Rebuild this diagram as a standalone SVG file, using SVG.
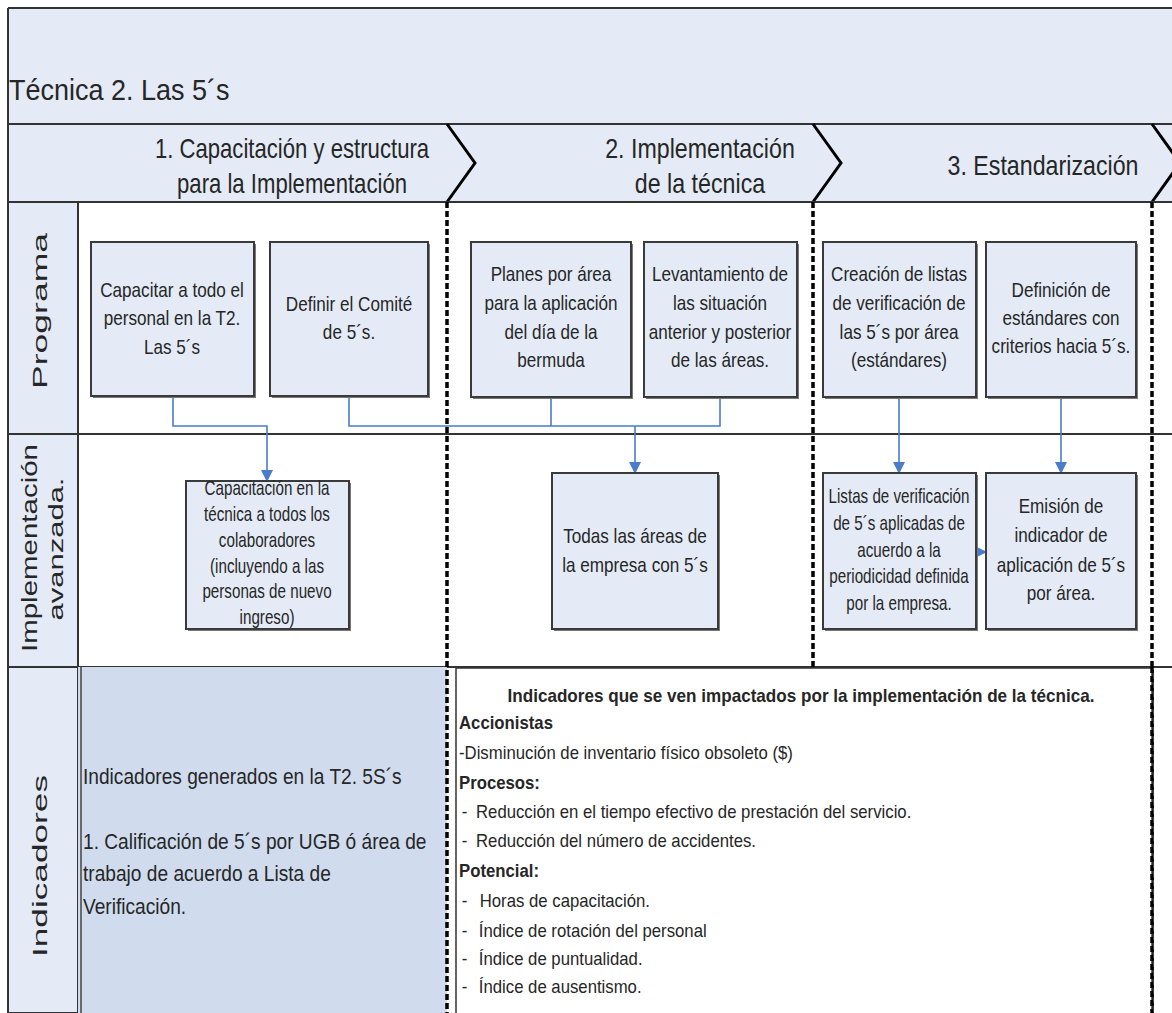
<svg xmlns="http://www.w3.org/2000/svg" width="1172" height="1013" viewBox="0 0 1172 1013">
<style>
.band{fill:#E4EBF6;stroke:none}
.lane{fill:#E4EBF6;stroke:#333;stroke-width:2}
.box{fill:#E4EBF6;stroke:#3a3a3a;stroke-width:2}
.sh{fill:#7a7a7a}
.t{font-family:"Liberation Sans",Arial,sans-serif;fill:#262626}
.bt{font-size:21px;text-anchor:middle}
.st{font-size:20px;text-anchor:middle}
.ph{font-size:27px;text-anchor:middle}
.lh{font-family:"Liberation Sans",Arial,sans-serif;fill:#262626;text-anchor:middle}
.ind{font-size:18px}
.b{font-weight:bold}
.hl{stroke:#333;stroke-width:2;fill:none}
.dash{stroke:#000;stroke-width:3.5;stroke-dasharray:6 3;fill:none}
.chev{stroke:#000;stroke-width:3;fill:none}
.con{stroke:#4A7CC9;stroke-width:1.6;fill:none}
</style>
<defs>
<marker id="ar" markerWidth="12" markerHeight="12" refX="11" refY="6" orient="auto" markerUnits="userSpaceOnUse">
<path d="M0,0 L12,6 L0,12 z" fill="#4A7CC9"/>
</marker>
</defs>
<rect width="1172" height="1013" fill="#fff"/>
<g id="title">
<rect class="band" x="8" y="8" width="1164" height="194"/>
<line class="hl" x1="8" y1="8" x2="1172" y2="8"/>
<line class="hl" x1="8" y1="8" x2="8" y2="1013"/>
<line class="hl" x1="8" y1="124" x2="1172" y2="124"/>
<g transform="translate(9 0) scale(0.9 1)"><text class="t" x="0" y="100" font-size="30">Técnica 2. Las 5´s</text></g>
</g>
<g id="phases">
<g transform="translate(292 0) scale(0.82 1)">
<text class="t ph" x="0" y="158">1. Capacitación y estructura</text>
<text class="t ph" x="0" y="193">para la Implementación</text></g>
<g transform="translate(700 0) scale(0.86 1)">
<text class="t ph" x="0" y="158">2. Implementación</text>
<text class="t ph" x="0" y="193">de la técnica</text></g>
<g transform="translate(1043 0) scale(0.86 1)">
<text class="t ph" x="0" y="175">3. Estandarización</text></g>
<path class="chev" d="M447,124 L475,163 L447,202"/>
<path class="chev" d="M813,124 L841,163 L813,202"/>
<path class="chev" d="M1152,124 L1180,163 L1152,202"/>
</g>
<g id="lanes">
<rect class="lane" x="8" y="202" width="70" height="811"/>
<line class="hl" x1="8" y1="202" x2="1172" y2="202"/>
<line class="hl" x1="8" y1="434" x2="1172" y2="434"/>
<line class="hl" x1="8" y1="667" x2="1172" y2="667"/>
<text class="lh" font-size="21" textLength="156" lengthAdjust="spacingAndGlyphs" transform="translate(47,311) rotate(-90)">Programa</text>
<text class="lh" font-size="22" textLength="208" lengthAdjust="spacingAndGlyphs" transform="translate(37,548) rotate(-90)">Implementación</text>
<text class="lh" font-size="21" textLength="143" lengthAdjust="spacingAndGlyphs" transform="translate(63,549) rotate(-90)">avanzada.</text>
<text class="lh" font-size="21" textLength="182" lengthAdjust="spacingAndGlyphs" transform="translate(47,866) rotate(-90)">Indicadores</text>
</g>
<g id="ind-left">
<rect x="78" y="667" width="369" height="346" fill="#D0DCEE"/>
<line x1="81" y1="667" x2="81" y2="1013" stroke="#444" stroke-width="1.5"/>
<g transform="translate(83 0) scale(0.87 1)">
<text class="t" font-size="22" x="0" y="784">Indicadores generados en la T2. 5S´s</text>
<text class="t" font-size="22" x="0" y="849">1. Calificación de 5´s por UGB ó área de</text>
<text class="t" font-size="22" x="0" y="881">trabajo de acuerdo a Lista de</text>
<text class="t" font-size="22" x="0" y="914">Verificación.</text></g>
</g>
<g id="separators">
<line class="dash" x1="447" y1="202" x2="447" y2="1013"/>
<line class="dash" x1="813" y1="202" x2="813" y2="667"/>
<line class="dash" x1="1152" y1="202" x2="1152" y2="1013"/>
</g>
<g id="ind-right">
<rect x="456" y="668" width="696" height="350" fill="#fff" stroke="#333" stroke-width="1.5"/>
<line class="dash" x1="1152" y1="667" x2="1152" y2="1013"/>
<g transform="translate(801 0) scale(0.95 1)"><text class="t ind b" x="0" y="702" text-anchor="middle">Indicadores que se ven impactados por la implementación de la técnica.</text></g>
<g transform="translate(459 0) scale(0.93 1)">
<text class="t ind b" x="0" y="729">Accionistas</text>
<text class="t ind" x="0" y="759">-Disminución de inventario físico obsoleto ($)</text>
<text class="t ind b" x="0" y="789">Procesos:</text>
<text class="t ind" x="3" y="818">-</text>
<text class="t ind" x="3" y="847">-</text>
<text class="t ind b" x="0" y="877">Potencial:</text>
<text class="t ind" x="3" y="907">-</text>
<text class="t ind" x="3" y="937">-</text>
<text class="t ind" x="3" y="965">-</text>
<text class="t ind" x="3" y="993">-</text></g>
<g transform="translate(476 0) scale(0.93 1)">
<text class="t ind" x="0" y="818">Reducción en  el tiempo efectivo de prestación del servicio.</text>
<text class="t ind" x="0" y="847">Reducción del número de accidentes.</text>
<text class="t ind" x="4" y="907">Horas de capacitación.</text>
<text class="t ind" x="3" y="937">Índice de rotación del personal</text>
<text class="t ind" x="3" y="965">Índice de puntualidad.</text>
<text class="t ind" x="3" y="993">Índice de ausentismo.</text></g>
</g>
<g id="connectors">
<path class="con" d="M173,396 V426 H267 V481" marker-end="url(#ar)"/>
<path class="con" d="M349,396 V426 H720 V396"/>
<path class="con" d="M551,396 V426"/>
<path class="con" d="M635,426 V473" marker-end="url(#ar)"/>
<path class="con" d="M899,396 V473" marker-end="url(#ar)"/>
<path class="con" d="M1061,396 V473" marker-end="url(#ar)"/>
<path class="con" d="M976,552 H986" marker-end="url(#ar)"/>
</g>
<g id="n1"><rect class="sh" x="93" y="244" width="163" height="154"/><rect class="box" x="91" y="242" width="163" height="154"/>
<g transform="translate(172 0) scale(0.815 1)"><text class="t bt" x="0" y="297">Capacitar a todo el</text><text class="t bt" x="0" y="325">personal en la T2.</text><text class="t bt" x="0" y="354">Las 5´s</text></g></g>
<g id="n2"><rect class="sh" x="272" y="244" width="158" height="154"/><rect class="box" x="270" y="242" width="158" height="154"/>
<g transform="translate(349 0) scale(0.815 1)"><text class="t bt" x="0" y="311">Definir el Comité</text><text class="t bt" x="0" y="339">de 5´s.</text></g></g>
<g id="n3"><rect class="sh" x="473" y="244" width="160" height="155"/><rect class="box" x="471" y="242" width="160" height="155"/>
<g transform="translate(551 0) scale(0.815 1)"><text class="t bt" x="0" y="281">Planes por área</text><text class="t bt" x="0" y="310">para la aplicación</text><text class="t bt" x="0" y="339">del día de la</text><text class="t bt" x="0" y="367">bermuda</text></g></g>
<g id="n4"><rect class="sh" x="646" y="244" width="153" height="155"/><rect class="box" x="644" y="242" width="153" height="155"/>
<g transform="translate(720 0) scale(0.815 1)"><text class="t bt" x="0" y="281">Levantamiento de</text><text class="t bt" x="0" y="310">las situación</text><text class="t bt" x="0" y="339">anterior y posterior</text><text class="t bt" x="0" y="367">de las áreas.</text></g></g>
<g id="n5"><rect class="sh" x="825" y="244" width="153" height="155"/><rect class="box" x="823" y="242" width="153" height="155"/>
<g transform="translate(899 0) scale(0.815 1)"><text class="t bt" x="0" y="281">Creación de listas</text><text class="t bt" x="0" y="310">de verificación de</text><text class="t bt" x="0" y="339">las 5´s por área</text><text class="t bt" x="0" y="367">(estándares)</text></g></g>
<g id="n6"><rect class="sh" x="988" y="244" width="150" height="155"/><rect class="box" x="986" y="242" width="150" height="155"/>
<g transform="translate(1061 0) scale(0.815 1)"><text class="t bt" x="0" y="297">Definición de</text><text class="t bt" x="0" y="325">estándares con</text><text class="t bt" x="0" y="353">criterios hacia 5´s.</text></g></g>
<g id="n7"><rect class="sh" x="188" y="483" width="163" height="148"/><rect class="box" x="186" y="481" width="163" height="148"/>
<g transform="translate(267 0) scale(0.76 1)"><text class="t st" x="0" y="495">Capacitación en la</text><text class="t st" x="0" y="521">técnica a todos los</text><text class="t st" x="0" y="547">colaboradores</text><text class="t st" x="0" y="573">(incluyendo a las</text><text class="t st" x="0" y="598">personas de nuevo</text><text class="t st" x="0" y="624">ingreso)</text></g></g>
<g id="n8"><rect class="sh" x="554" y="475" width="166" height="156"/><rect class="box" x="552" y="473" width="166" height="156"/>
<g transform="translate(635 0) scale(0.815 1)"><text class="t bt" x="0" y="543">Todas las áreas de</text><text class="t bt" x="0" y="572">la empresa con 5´s</text></g></g>
<g id="n9"><rect class="sh" x="825" y="475" width="153" height="156"/><rect class="box" x="823" y="473" width="153" height="156"/>
<g transform="translate(899 0) scale(0.76 1)"><text class="t st" x="0" y="503">Listas de verificación</text><text class="t st" x="0" y="530">de 5´s aplicadas de</text><text class="t st" x="0" y="557">acuerdo a la</text><text class="t st" x="0" y="583">periodicidad definida</text><text class="t st" x="0" y="610">por la empresa.</text></g></g>
<g id="n10"><rect class="sh" x="988" y="475" width="150" height="156"/><rect class="box" x="986" y="473" width="150" height="156"/>
<g transform="translate(1061 0) scale(0.815 1)"><text class="t bt" x="0" y="513">Emisión de</text><text class="t bt" x="0" y="542">indicador de</text><text class="t bt" x="0" y="572">aplicación de 5´s</text><text class="t bt" x="0" y="600">por área.</text></g></g>
</svg>
